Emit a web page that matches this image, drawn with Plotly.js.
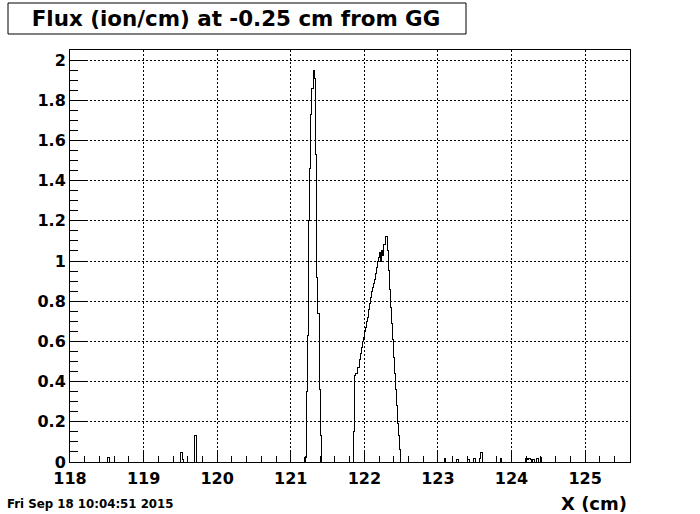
<!DOCTYPE html>
<html>
<head>
<meta charset="utf-8">
<script src="https://cdn.plot.ly/plotly-3.0.1.min.js"></script>
<style>
html,body{margin:0;padding:0;background:#fff;}
#chart{width:700px;height:514px;}
#chart .scatterlayer path{shape-rendering:crispEdges;}
</style>
</head>
<body>
<div id="chart"></div>
<script>
// Histogram bins with non-zero content (cm)
const binLow = [
  118.516, 119.508, 119.524, 119.698,
  121.193, 121.216, 121.230, 121.247, 121.261, 121.274, 121.288, 121.315, 121.329, 121.342, 121.356, 121.370, 121.390, 121.410,
  121.859, 121.872, 121.886, 121.913, 121.940, 121.954, 121.967, 121.981, 121.995, 122.008, 122.022, 122.035, 122.049, 122.063,
  122.076, 122.090, 122.103, 122.117, 122.130, 122.144, 122.158, 122.171, 122.185, 122.198, 122.212, 122.226, 122.239, 122.253,
  122.266, 122.293, 122.321, 122.334, 122.348, 122.361, 122.375, 122.389, 122.402, 122.416, 122.429, 122.443, 122.457, 122.470, 122.484,
  123.088, 123.258, 123.408, 123.489, 123.571, 123.584, 123.849,
  124.196, 124.216, 124.236, 124.257, 124.291, 124.345, 124.393
];
const binHigh = [
  118.536, 119.524, 119.540, 119.721,
  121.216, 121.230, 121.247, 121.261, 121.274, 121.288, 121.315, 121.329, 121.342, 121.356, 121.370, 121.390, 121.410, 121.424,
  121.872, 121.886, 121.913, 121.940, 121.954, 121.967, 121.981, 121.995, 122.008, 122.022, 122.035, 122.049, 122.063, 122.076,
  122.090, 122.103, 122.117, 122.130, 122.144, 122.158, 122.171, 122.185, 122.198, 122.212, 122.226, 122.239, 122.253, 122.266,
  122.293, 122.321, 122.334, 122.348, 122.361, 122.375, 122.389, 122.402, 122.416, 122.429, 122.443, 122.457, 122.470, 122.484, 122.497,
  123.109, 123.279, 123.428, 123.510, 123.584, 123.607, 123.870,
  124.216, 124.236, 124.257, 124.277, 124.311, 124.365, 124.413
];
const flux = [
  0.02, 0.045, 0.01, 0.13,
  0.02, 0.35, 0.63, 1.20, 1.46, 1.73, 1.86, 1.95, 1.91, 1.53, 0.92, 0.74, 0.36, 0.13,
  0.15, 0.43, 0.44, 0.47, 0.51, 0.54, 0.57, 0.60, 0.62, 0.65, 0.67, 0.70, 0.72, 0.76,
  0.79, 0.82, 0.85, 0.87, 0.89, 0.91, 0.94, 0.97, 1.00, 1.02, 1.04, 1.00, 1.05, 1.03,
  1.08, 1.12, 1.05, 0.955, 0.86, 0.77, 0.69, 0.61, 0.52, 0.44, 0.36, 0.28, 0.19, 0.13, 0.06,
  0.015, 0.01, 0.01, 0.015, 0.015, 0.046, 0.015,
  0.015, 0.01, 0.015, 0.01, 0.01, 0.015, 0.02
];
const xRange = [118, 125.61];
const yRange = [0, 2.05];
const titleText = "Flux (ion/cm) at -0.25 cm from GG";
const xTitle = "X (cm)";
const dateText = "Fri Sep 18 10:04:51 2015";

// Build the step outline of the histogram
const xs = [xRange[0]], ys = [0];
for (let i = 0; i < binLow.length; i++) {
  xs.push(binLow[i]); ys.push(flux[i]);
  const next = i + 1 < binLow.length ? binLow[i + 1] : null;
  if (next === null || Math.abs(next - binHigh[i]) > 1e-9) { xs.push(binHigh[i]); ys.push(0); }
}
xs.push(xRange[1]); ys.push(0);

const FONT = "DejaVu Sans, Verdana, sans-serif";
const bold = (size) => ({family: FONT, size: size, color: "black", weight: "bold"});

const trace = {
  x: xs, y: ys, type: "scatter", mode: "lines",
  line: {shape: "hv", color: "black", width: 1},
  hoverinfo: "skip", showlegend: false
};

const axisCommon = {
  showline: true, mirror: true, linecolor: "black", linewidth: 1,
  ticks: "inside", tickcolor: "black", tickwidth: 1,
  showgrid: true, gridcolor: "black", gridwidth: 1, griddash: "2px,2px",
  zeroline: false, fixedrange: true
};

const layout = {
  width: 700, height: 514,
  margin: {l: 70, r: 70, t: 50, b: 52, pad: 0},
  paper_bgcolor: "white", plot_bgcolor: "white",
  title: {
    text: titleText, font: bold(21.4),
    xref: "container", yref: "container",
    x: 236 / 700, xanchor: "center", y: 1 - 19 / 514, yanchor: "middle"
  },
  xaxis: Object.assign({}, axisCommon, {
    range: xRange, tick0: 118, dtick: 1, ticklen: 12,
    tickfont: bold(16), ticklabelstandoff: 2,
    minor: {dtick: 0.2, tick0: 118, ticks: "inside", ticklen: 6, tickcolor: "black", showgrid: false}
  }),
  yaxis: Object.assign({}, axisCommon, {
    range: yRange, tick0: 0, dtick: 0.2, ticklen: 16,
    tickfont: bold(16),
    minor: {dtick: 0.05, tick0: 0, ticks: "inside", ticklen: 8, tickcolor: "black", showgrid: false}
  }),
  shapes: [{
    type: "rect", xref: "paper", yref: "paper",
    x0: (8 - 70) / 560, x1: (466 - 70) / 560,
    y0: (462 - 34) / 412, y1: (462 - 3) / 412,
    line: {color: "black", width: 1}, fillcolor: "rgba(0,0,0,0)", layer: "below"
  }],
  annotations: [
    {text: xTitle, xref: "paper", yref: "paper", x: (629 - 70) / 560, y: (462 - 503) / 412,
     xanchor: "right", yanchor: "middle", showarrow: false, font: bold(18)},
    {text: dateText, xref: "paper", yref: "paper", x: (5 - 70) / 560, y: (462 - 504) / 412,
     xanchor: "left", yanchor: "middle", showarrow: false, font: bold(11.8)}
  ]
};

Plotly.newPlot("chart", [trace], layout, {displayModeBar: false, staticPlot: true});
</script>
</body>
</html>
